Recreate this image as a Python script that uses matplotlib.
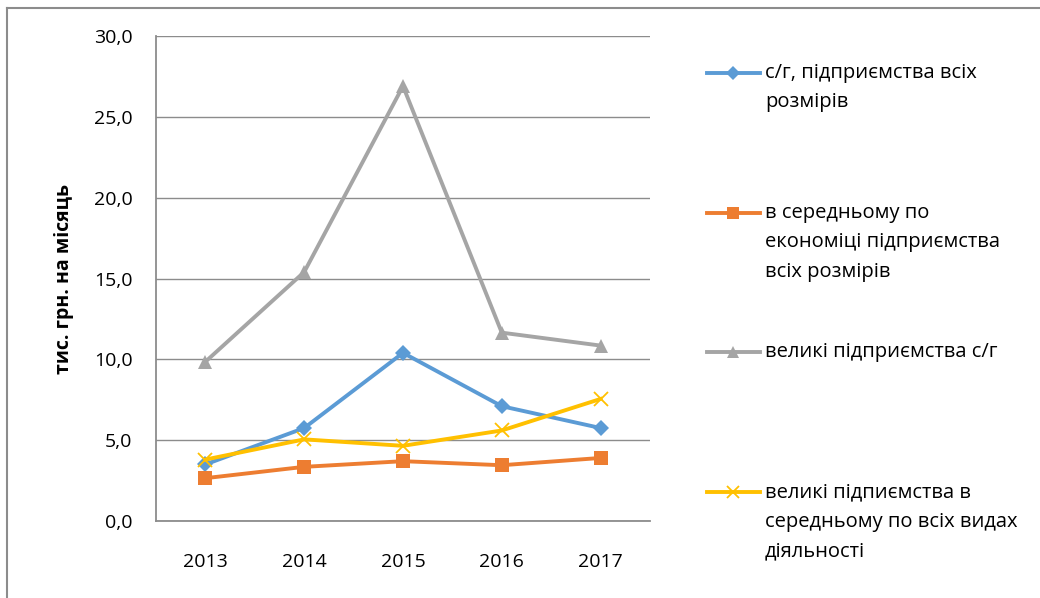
import matplotlib
matplotlib.use('Agg')
import matplotlib.pyplot as plt
from matplotlib.lines import Line2D

plt.rcParams['font.family'] = ['Open Sans', 'DejaVu Sans']

years = ['2013', '2014', '2015', '2016', '2017']
agri_all = [3.5, 5.75, 10.4, 7.1, 5.75]
economy_avg = [2.65, 3.35, 3.7, 3.45, 3.9]
agri_large = [9.85, 15.4, 26.9, 11.65, 10.85]
large_avg = [3.8, 5.05, 4.65, 5.6, 7.55]

labels = [
    ['с/г, підприємства всіх', 'розмірів'],
    ['в середньому по', 'економіці підприємства', 'всіх розмірів'],
    ['великі підприємства с/г'],
    ['великі підпиємства в', 'середньому по всіх видах', 'діяльності'],
]

colors = ['#5B9BD5', '#ED7D31', '#A5A5A5', '#FFC000']
markers = ['D', 's', '^', 'x']
msizes = [8, 10, 10, 10]
FS = 14

fig = plt.figure(figsize=(10.4, 5.98), dpi=100)
ax = fig.add_axes([156 / 1040, 77 / 598, 494 / 1040, 485 / 598])

x = range(len(years))
series = [agri_all, economy_avg, agri_large, large_avg]
lines = []
for vals, c, m, ms in zip(series, colors, markers, msizes):
    ln, = ax.plot(x, vals, color=c, lw=2.8, marker=m, markersize=ms,
                  markeredgewidth=1.3 if m == 'x' else 0, markeredgecolor=c,
                  markerfacecolor=c, zorder=3)
    lines.append(ln)

ax.set_xlim(-0.5, 4.5)
ax.set_ylim(0, 30)
ax.set_yticks([0, 5, 10, 15, 20, 25, 30])
ax.set_yticklabels([f'{v:.1f}'.replace('.', ',') for v in range(0, 31, 5)])
ax.set_xticks(list(x))
ax.set_xticklabels(years)
ax.tick_params(axis='y', length=0, pad=17, labelsize=FS)
ax.tick_params(axis='x', length=0, pad=23, labelsize=FS)
ax.grid(axis='y', color='#8C8C8C', lw=1.0)
ax.set_axisbelow(True)
for s in ['top', 'right']:
    ax.spines[s].set_visible(False)
for s in ['left', 'bottom']:
    ax.spines[s].set_color('#8C8C8C')
    ax.spines[s].set_linewidth(1.3)

ax.set_ylabel('тис. грн. на місяць', fontsize=FS, fontweight='bold', labelpad=14)

# legend drawn by hand so the key sits on the first line of text
W, H = 1040, 598
first_rows = [73, 213, 352, 492]
for ln, rows, y0 in zip(lines, labels, first_rows):
    fy = 1 - y0 / H
    fig.add_artist(Line2D([707 / W, 760 / W], [fy, fy], color=ln.get_color(), lw=2.8,
                          transform=fig.transFigure))
    fig.add_artist(Line2D([733 / W], [fy], marker=ln.get_marker(),
                          markersize=ln.get_markersize() - 1,
                          color=ln.get_color(), markeredgecolor=ln.get_color(),
                          markeredgewidth=ln.get_markeredgewidth(),
                          transform=fig.transFigure))
    for i, txt in enumerate(rows):
        fig.text(765 / W, 1 - (y0 + i * 29.5) / H, txt, fontsize=FS + 0.5,
                 va='center', ha='left')

# outer chart border (left and top visible)
fig.add_artist(Line2D([7 / W, 7 / W], [0, 1 - 8 / H], color='#8C8C8C', lw=1.5,
                      transform=fig.transFigure))
fig.add_artist(Line2D([7 / W, 1], [1 - 8 / H, 1 - 8 / H], color='#8C8C8C', lw=1.5,
                      transform=fig.transFigure))

fig.savefig('out.png', dpi=100, facecolor='white')
